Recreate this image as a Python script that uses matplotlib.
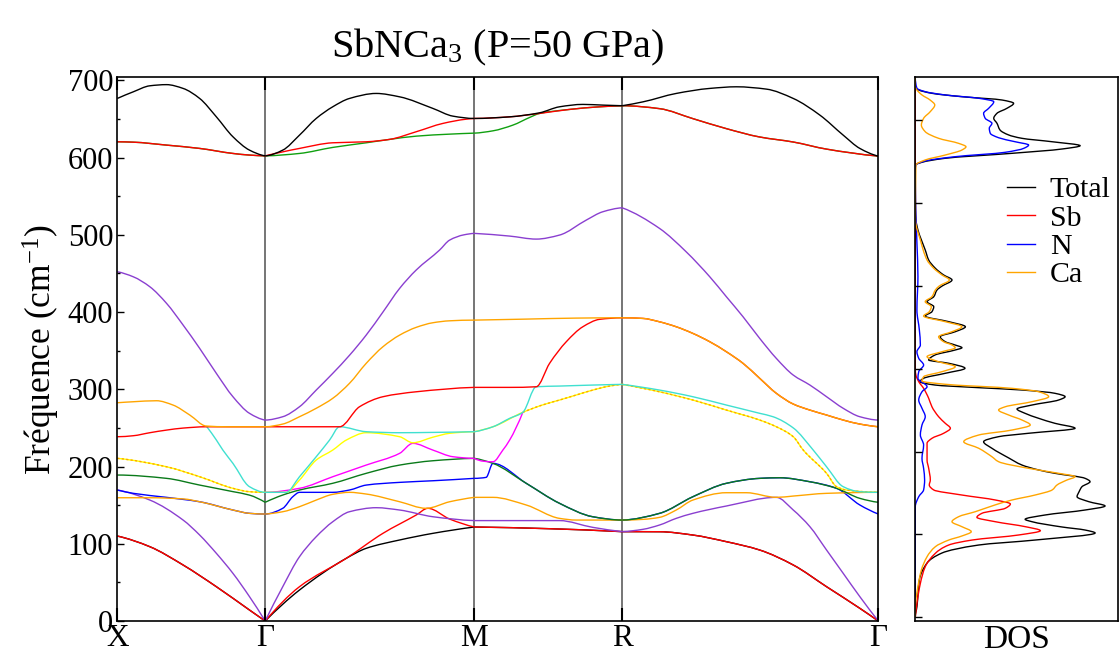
import numpy as np
import matplotlib
matplotlib.use("Agg")
import matplotlib.pyplot as plt
from matplotlib.path import Path
from matplotlib.patches import PathPatch

plt.rcParams['font.family'] = ['Liberation Serif', 'DejaVu Serif']
plt.rcParams['mathtext.fontset'] = 'custom'
plt.rcParams['mathtext.rm'] = 'Liberation Serif'
plt.rcParams['mathtext.it'] = 'Liberation Serif:italic'

# ---- high-symmetry path -------------------------------------------------
kpath_labels = ['X', 'Γ', 'M', 'R', 'Γ']
kpath_dist = [0.0, 0.5, 1.2071, 1.7071, 2.5731]

# ---- phonon branches: (path parameter s in [0, 4], frequency in cm-1) ----
black_low = [(0, 110), (0.220, 96.2), (0.445, 72.5), (0.670, 44.4), (0.894, 14.2), (1, 0),
             (1.164, 40.1), (1.388, 81.2), (1.483, 94.1), (1.643, 104.9), (1.802, 113.5), (2, 121.7),
             (2.509, 119.5), (3, 115.7),
             (3.146, 115.6), (3.276, 111.3), (3.407, 102.7), (3.537, 91.9), (3.668, 72.5),
             (3.798, 44.4), (3.928, 16.4), (4, 0)]
red_low = [(0, 110), (0.220, 96.2), (0.445, 72.5), (0.670, 44.4), (0.894, 14.2), (1, 0),
           (1.164, 44.4), (1.388, 81.2), (1.563, 113.5), (1.722, 137.2), (1.778, 145.9),
           (1.882, 132), (2, 121.7),
           (2.509, 119.5), (3, 115.7),
           (3.146, 115.6), (3.276, 111.3), (3.407, 102.7), (3.537, 91.9), (3.668, 72.5),
           (3.798, 44.4), (3.928, 16.4), (4, 0)]
purple_low = [(0, 169.6), (0.220, 156.6), (0.445, 130.7), (0.557, 111.3), (0.670, 87.6),
              (0.782, 61.7), (0.894, 31.5), (1, 0),
              (1.084, 44.4), (1.164, 83.2), (1.244, 109.1), (1.323, 128.5), (1.403, 141.5),
              (1.531, 146.7), (1.643, 143.7), (1.802, 135), (2, 130),
              (2.3, 130), (2.576, 130), (2.8, 121.3), (3, 115.7),
              (3.081, 118.7), (3.146, 124.3), (3.211, 132.9), (3.276, 139.4), (3.407, 148.9),
              (3.602, 160.1), (3.668, 143.7), (3.733, 122.1), (3.798, 91.9), (3.863, 61.7),
              (3.928, 31.5), (4, 0)]
blue_mid = [(0, 169.6), (0.108, 165.3), (0.333, 160.1), (0.557, 154.4), (0.782, 143.7),
            (0.894, 139.4), (1, 138.5),
            (1.084, 145.9), (1.132, 160.9), (1.164, 166.6), (1.323, 166.6), (1.403, 169.6),
            (1.483, 176), (1.643, 179.5), (1.802, 181.6), (2, 184.7),
            (2.08, 186), (2.126, 204.1), (2.351, 178.3), (2.576, 152.4), (2.801, 135), (3, 130.7),
            (3.146, 139.4), (3.276, 160.9), (3.407, 178.3), (3.537, 184.7), (3.615, 185.5),
            (3.733, 180.3), (3.837, 171.8), (3.928, 150.2), (4, 138.5)]
orange_low = [(0, 159.6), (0.22, 159.6), (0.45, 158), (0.557, 154.4), (0.782, 143.7),
              (0.894, 139.4), (1, 138.5),
              (1.084, 141.5), (1.164, 148), (1.244, 156.6), (1.323, 164), (1.403, 166.6),
              (1.483, 164.4), (1.643, 154.4), (1.770, 145.9), (1.882, 154.4), (2, 160.1),
              (2.126, 160.1), (2.351, 150.2), (2.576, 132.9), (2.689, 130.7), (3, 130.7),
              (3.081, 131.6), (3.146, 134.2), (3.211, 143.7), (3.276, 156.6), (3.407, 166.1),
              (3.485, 166.1), (3.602, 160.1), (3.668, 161.8), (3.798, 165.3), (4, 166.6)]
green_mid = [(0, 189), (0.333, 184.7), (0.557, 176), (0.782, 167.5), (0.894, 163), (1, 153.7),
             (1.084, 163.1), (1.164, 169.6), (1.323, 178.3), (1.483, 191.2), (1.643, 201.9),
             (1.802, 207.5), (2, 210.6),
             (2.126, 204.1), (2.351, 178.3), (2.576, 152.4), (2.801, 135), (3, 130.7),
             (3.146, 139.4), (3.276, 160.9), (3.407, 178.3), (3.537, 184.7), (3.615, 185.5),
             (3.733, 180.3), (3.837, 171.8), (3.928, 158.8), (4, 153.7)]
magenta_mid = [(1, 166.6), (1.164, 171.8), (1.323, 186.8), (1.483, 201.9), (1.643, 217.1),
               (1.706, 230), (1.802, 221.3), (1.898, 212.7), (2, 210.6),
               (2.126, 206.2), (2.193, 221.3), (2.239, 234.3), (2.328, 270.2)]
yellow_mid = [(0, 210.6), (0.333, 199.7), (0.557, 186.8), (0.782, 171.8), (0.894, 167.4), (1, 166.6),
              (1.1, 166.6), (1.164, 182.5), (1.244, 208.4), (1.323, 221.3), (1.388, 234.3),
              (1.483, 243.8), (1.643, 238.6), (1.706, 230.8), (1.802, 238), (1.882, 243), (2, 245.1),
              (2.126, 251.5), (2.328, 270.2), (2.459, 279.6), (2.576, 286.1), (2.689, 292.6),
              (2.801, 299), (2.914, 304.2), (3, 306.4),
              (3.146, 296.8), (3.276, 286.1), (3.407, 273.1), (3.537, 260.2), (3.602, 251.5),
              (3.668, 238.6), (3.707, 221.3), (3.798, 191.2), (3.837, 173.9), (3.876, 169.6),
              (4, 166.6)]
# degenerate partner that shows through the yellow branch
orange_pair_xg = [(0, 210.6), (0.333, 199.7), (0.557, 186.8), (0.782, 171.8), (0.894, 167.4),
                  (1, 166.6)]
orange_pair_mrg = [(2.328, 270.2), (2.459, 279.6), (2.576, 286.1), (2.689, 292.6),
                   (2.801, 299), (2.914, 304.2), (3, 306.4),
                   (3.146, 296.8), (3.276, 286.1), (3.407, 273.1), (3.537, 260.2), (3.602, 251.5),
                   (3.668, 238.6), (3.707, 221.3), (3.798, 191.2), (3.837, 173.9), (3.876, 169.6),
                   (4, 166.6)]
cyan_mid = [(0.602, 252.4), (0.670, 234.3), (0.714, 221.3), (0.782, 204.1), (0.894, 173.9), (1, 166.6),
            (1.1, 166.6), (1.164, 186.8), (1.244, 212.7), (1.308, 234.3), (1.356, 251.5),
            (1.483, 245.1), (1.643, 243.8), (1.802, 244.2), (2, 245.1),
            (2.126, 251.5), (2.239, 262.4), (2.328, 270.2), (2.419, 303.3), (2.576, 304.2),
            (2.801, 305.5), (3, 306.4),
            (3.146, 299), (3.276, 290.4), (3.407, 279.6), (3.537, 268.9), (3.589, 264.5),
            (3.668, 250), (3.746, 221.3), (3.798, 199.7), (3.863, 173.9), (3.928, 167.4), (4, 166.6)]
red_mid = [(0, 238.6), (0.108, 239.9), (0.220, 243.8), (0.333, 247.2), (0.445, 249.8),
           (0.602, 251.5), (1, 251.5),
           (1.164, 251.5), (1.356, 251.5), (1.451, 277.4), (1.563, 290.4),
           (1.722, 296.8), (2, 302.5),
           (2.239, 302.5), (2.419, 303.3), (2.509, 333.6), (2.622, 361.6), (2.734, 381),
           (2.847, 390.6), (3, 392.6),
           (3.081, 391.8), (3.146, 387.4), (3.211, 381), (3.276, 372.4), (3.342, 361.6),
           (3.407, 348.6), (3.472, 333.6), (3.537, 314.2), (3.602, 294.8), (3.668, 280.9),
           (3.733, 273.1), (3.798, 266.7), (3.863, 260.2), (3.928, 255), (4, 251.5)]
orange_high = [(0, 282.6), (0.108, 283.9), (0.265, 285.2), (0.377, 279.6), (0.490, 266.7),
               (0.602, 252.4), (0.75, 251.5), (1, 251.5),
               (1.084, 255), (1.164, 264.5), (1.244, 275.4), (1.323, 288.3), (1.403, 307.7),
               (1.483, 333.6), (1.563, 355.1), (1.643, 370.2), (1.722, 380.2), (1.802, 386.2),
               (1.882, 388.7), (2, 389.6),
               (2.351, 390.9), (2.689, 392.2), (3, 392.6),
               (3.081, 391.8), (3.146, 387.4), (3.211, 381), (3.276, 372.4), (3.342, 361.6),
               (3.407, 348.6), (3.472, 333.6), (3.537, 314.2), (3.602, 294.8), (3.668, 280.9),
               (3.733, 273.1), (3.798, 266.7), (3.863, 260.2), (3.928, 255), (4, 251.5)]
purple_high = [(0, 452.2), (0.108, 445.7), (0.220, 432.8), (0.333, 411.3), (0.445, 383.2),
               (0.557, 353), (0.670, 320.6), (0.782, 290.4), (0.894, 268.9), (1, 260.2),
               (1.084, 264.5), (1.164, 277.4), (1.244, 299), (1.323, 320.6), (1.403, 344),
               (1.483, 370.2), (1.563, 400), (1.643, 430.7), (1.722, 454.4), (1.834, 480.3),
               (1.882, 493.2), (1.95, 500), (2, 501.9),
               (2.239, 498.4), (2.419, 494.5), (2.576, 499.7), (2.757, 519.1), (2.869, 529.9), (3, 535),
               (3.146, 508.3), (3.250, 478), (3.342, 445.7), (3.407, 419.8), (3.472, 393.9),
               (3.537, 365.9), (3.602, 340), (3.668, 318.4), (3.733, 305.5), (3.798, 290.4),
               (3.863, 275.4), (3.928, 264.5), (4, 260.2)]
green_top = [(0, 620.5), (0.108, 620), (0.333, 616.2), (0.557, 611.9), (0.782, 605.4),
             (0.894, 603.3), (1, 602.3),
             (1.164, 605.4), (1.323, 613.2), (1.483, 619.2), (1.595, 623.6), (1.722, 627.8),
             (1.882, 630.4), (2, 631.7),
             (2.126, 634.7), (2.261, 642.1), (2.374, 652), (2.441, 657.2), (2.644, 662.4),
             (2.847, 665.8), (3, 667.2),
             (3.146, 663.4), (3.276, 650.5), (3.407, 637.5), (3.537, 626.7), (3.668, 620.2),
             (3.798, 611), (4, 602)]
red_top = [(0, 620.5), (0.108, 620), (0.333, 616.2), (0.557, 611.9), (0.782, 605.4),
           (0.894, 603.3), (1, 602.3),
           (1.164, 611.9), (1.323, 619.2), (1.483, 620.5), (1.595, 623.6), (1.722, 633.5),
           (1.850, 644.3), (1.962, 649.8), (2, 650.7),
           (2.239, 652.8), (2.441, 657.2), (2.644, 662.4), (2.847, 665.8), (3, 667.2),
           (3.146, 663.4), (3.276, 650.5), (3.407, 637.5), (3.537, 626.7), (3.668, 620.2),
           (3.798, 611), (4, 602)]
black_top = [(0, 676.6), (0.108, 685.2), (0.220, 693), (0.333, 694.5), (0.445, 689.6),
             (0.557, 676.6), (0.670, 652.8), (0.782, 627), (0.894, 609.7), (1, 602.3),
             (1.084, 609.7), (1.164, 629.1), (1.244, 650.7), (1.323, 665.8), (1.403, 676.6),
             (1.531, 683.1), (1.643, 678.7), (1.802, 663.7), (1.898, 653.7), (2, 650.7),
             (2.239, 652.8), (2.441, 658), (2.576, 665.8), (2.734, 668.9), (2.869, 668), (3, 667.2),
             (3.081, 672.2), (3.211, 683.1), (3.342, 689.6), (3.446, 691.7), (3.563, 688.7),
             (3.668, 676.6), (3.772, 655), (3.863, 629.1), (3.928, 611.9), (4, 602)]

# drawing order: bottom to top (band, colour, dashed)
branches = [
    (black_low, 'black', False), (red_low, '#ff0000', False), (purple_low, '#8a3fd0', False),
    (blue_mid, '#0000ff', False), (orange_low, '#ffa500', False), (green_mid, '#0a7a1a', False),
    (magenta_mid, '#ff00ff', False), (yellow_mid, '#ffff00', False),
    (orange_pair_xg, '#ffa500', True), (orange_pair_mrg, '#ffa500', True),
    (cyan_mid, '#40e0d0', False),
    (red_mid, '#ff0000', False), (orange_high, '#ffa500', False), (purple_high, '#8a3fd0', False),
    (green_top, '#10a010', False), (red_top, '#ff0000', False), (black_top, 'black', False),
]

# ---- projected density of states (frequency, DOS) -------------------------
dos_total_f = [0, 0.7, 12.8, 45.0, 65.5, 77.6, 87.2, 93.2, 101.7, 105.3, 108.9, 115.3, 118.2,
               123.4, 129.4, 134.3, 139.4, 145.5, 151.5, 157.5, 163.6, 167.7, 173.7, 177.7,
               183.7, 192.2, 203.9, 211.8, 217.9, 222.0, 228.0, 234.0, 240.0, 246.1, 251.3,
               256.1, 262.1, 266.1, 270.2, 274.2, 277.0, 280.2, 284.2, 288.3, 294.3, 300.4,
               306.4, 310.4, 316.4, 322.4, 325.2, 328.5, 332.4, 338.5, 344.5, 350.5, 356.6,
               363.4, 368.6, 374.7, 380.7, 386.7, 394.8, 399.6, 406.9, 412.9, 421.0, 431.0,
               443.1, 455.2, 467.2, 479.3, 491.3, 545.6, 548.9, 553.7, 559.7, 564.9, 568.9,
               573.7, 577.8, 581.8, 587.8, 595.9, 601.9, 608.0, 614.0, 620.0, 624.0, 628.0,
               632.1, 636.1, 638.8, 651]
dos_total_v = [0, 0, 0.8, 2.0, 5.8, 13.2, 31.3, 59.1, 88.7, 83.7, 72.5, 57.6, 54.2,
               64.0, 83.7, 93.6, 85.7, 79.8, 80.8, 82.2, 86.2, 83.7, 68.9, 60.9,
               52.6, 46.1, 37.8, 33.7, 41.1, 55.9, 78.8, 68.9, 60.9, 54.1, 50.2,
               57.6, 70.7, 73.9, 68.9, 52.6, 31.3, 9.7, 2.3, 4.1, 14.7, 24.5,
               16.5, 6.6, 9.7, 19.6, 23.0, 19.6, 14.8, 12.3, 19.7, 24.7, 16.5,
               4.9, 8.2, 9.1, 5.8, 9.1, 10.7, 13.2, 18.1, 14.0, 9.9, 6.6,
               4.9, 3.0, 1.3, 0.3, 0, 0, 3.3, 14.7, 47.7, 72.4, 81.3,
               67.4, 52.6, 46.1, 41.8, 40.3, 38.7, 40.3, 45.2, 48.5, 42.8, 23.0,
               8.2, 1.7, 0, 0]

dos_sb_f = [0, 16.9, 41.0, 61.0, 77.2, 87.2, 93.2, 99.3, 104.5, 109.3, 115.3, 120.6, 125.5,
            131.5, 136.7, 141.5, 147.5, 153.6, 159.6, 165.6, 179.7, 189.7, 199.8, 209.9,
            215.9, 222.0, 228.0, 234.0, 242.0, 254.0, 264.2, 276.2, 284.2, 292.3, 298.3, 651]
dos_sb_v = [0, 0.8, 2.5, 4.9, 9.9, 16.5, 28.0, 51.0, 61.7, 54.3, 39.5, 30.4, 32.9,
            44.4, 46.9, 39.5, 23.0, 9.1, 6.9, 7.4, 6.6, 5.8, 5.8, 5.8,
            8.2, 14.0, 17.3, 14.8, 11.5, 8.2, 6.6, 4.1, 1.7, 0.3, 0, 0]

dos_n_f = [0, 133.4, 145.5, 153.6, 165.6, 179.7, 191.8, 207.8, 219.9, 232.0, 242.0, 252.1,
           262.1, 272.1, 278.2, 288.3, 296.3, 304.3, 312.4, 320.4, 328.5, 346.6, 370.7,
           410.9, 451.5, 491.3, 515.6, 539.6, 545.6, 550.4, 555.6, 560.9, 565.7, 569.7,
           573.7, 578.5, 583.8, 589.9, 595.9, 601.9, 608.0, 614.0, 622.0, 626.1, 630.1,
           634.1, 638.2, 651]
dos_n_v = [0, 0, 1.7, 4.1, 4.6, 4.1, 3.3, 4.1, 2.5, 3.3, 4.9, 3.3,
           1.7, 3.3, 5.8, 1.3, 1.7, 4.1, 1.7, 0.8, 2.5, 2.0, 0.8,
           1.3, 0.8, 0.3, 0.1, 0, 0.3, 4.8, 19.6, 44.3, 53.5, 55.9,
           49.2, 41.1, 37.0, 36.5, 37.8, 34.5, 33.7, 36.2, 38.7, 31.3, 14.7,
           4.8, 0.8, 0]

dos_ca_f = [0, 12.8, 36.9, 57.1, 73.1, 85.2, 93.2, 98.1, 103.3, 109.3, 115.3, 121.4, 127.4,
            135.5, 141.5, 147.5, 153.6, 159.6, 165.6, 169.6, 173.7, 179.7, 187.7, 193.7,
            203.9, 211.8, 219.9, 225.9, 232.0, 238.0, 244.0, 250.1, 254.0, 260.1, 266.1,
            272.1, 276.2, 281.1, 285.0, 290.2, 296.3, 302.3, 308.3, 314.4, 320.4, 325.2,
            328.5, 332.4, 338.5, 344.5, 350.5, 356.6, 363.4, 368.6, 374.7, 380.7, 386.7,
            394.8, 399.6, 406.9, 412.9, 421.0, 431.0, 455.2, 479.3, 545.6, 551.6, 557.6,
            563.7, 567.6, 571.7, 577.8, 585.8, 593.8, 601.9, 610.0, 618.0, 624.0, 630.1,
            636.1, 639.7, 651]
dos_ca_v = [0, 0, 1.3, 3.0, 5.8, 9.9, 16.5, 23.0, 27.6, 23.0, 18.1, 21.4, 29.6,
            39.3, 47.7, 59.1, 67.5, 69.9, 74.8, 78.8, 70.7, 55.9, 41.1, 37.8,
            31.3, 23.9, 31.3, 47.7, 56.7, 52.6, 46.1, 41.1, 44.4, 57.6, 65.8,
            60.9, 47.7, 14.7, 3.3, 4.1, 13.2, 19.7, 11.5, 5.8, 13.2, 19.7,
            18.1, 14.0, 11.5, 18.1, 23.0, 14.8, 4.1, 6.9, 7.9, 4.9, 8.2,
            9.9, 11.8, 16.8, 13.2, 9.1, 5.8, 2.5, 0.1, 0.3, 4.8, 14.7,
            23.0, 25.0, 21.4, 11.5, 4.9, 3.0, 4.1, 7.4, 9.6, 7.3, 3.3,
            0.8, 0, 0]

dos_series = [('Total', dos_total_f, dos_total_v, 'black'),
              ('Sb', dos_sb_f, dos_sb_v, '#ff0000'),
              ('N', dos_n_f, dos_n_v, '#0000ff'),
              ('Ca', dos_ca_f, dos_ca_v, '#ffa500')]


def path_to_k(s):
    return np.interp(s, [0, 1, 2, 3, 4], kpath_dist)


def hermite_slopes(x, y):
    """Shape-preserving (Fritsch-Carlson) tangents at the given samples."""
    x = np.asarray(x, float)
    y = np.asarray(y, float)
    h = np.diff(x)
    d = np.diff(y) / h
    n = len(x)
    m = np.zeros(n)
    if n == 2:
        m[:] = d[0]
        return m
    for i in range(1, n - 1):
        if d[i - 1] * d[i] > 0:
            w1 = 2 * h[i] + h[i - 1]
            w2 = h[i] + 2 * h[i - 1]
            m[i] = (w1 + w2) / (w1 / d[i - 1] + w2 / d[i])

    def edge(h0, h1, d0, d1):
        s = ((2 * h0 + h1) * d0 - h0 * d1) / (h0 + h1)
        if np.sign(s) != np.sign(d0):
            return 0.0
        if np.sign(d0) != np.sign(d1) and abs(s) > abs(3 * d0):
            return 3 * d0
        return s

    m[0] = edge(h[0], h[1], d[0], d[1])
    m[-1] = edge(h[-1], h[-2], d[-1], d[-2])
    return m


def smooth_path(x, y, swap=False):
    """Cubic Bezier path running through every sample (x increasing)."""
    x = np.asarray(x, float)
    y = np.asarray(y, float)
    m = hermite_slopes(x, y)
    verts = [(x[0], y[0])]
    codes = [Path.MOVETO]
    for i in range(len(x) - 1):
        h = x[i + 1] - x[i]
        verts += [(x[i] + h / 3, y[i] + m[i] * h / 3),
                  (x[i + 1] - h / 3, y[i + 1] - m[i + 1] * h / 3),
                  (x[i + 1], y[i + 1])]
        codes += [Path.CURVE4] * 3
    verts = np.array(verts)
    if swap:
        verts = verts[:, ::-1]
    return Path(verts, codes)


def draw_branch(ax, pts, color, dashed):
    s = np.array([p[0] for p in pts], float)
    f = np.array([p[1] for p in pts], float)
    # split at high-symmetry points so each path segment is drawn on its own
    cuts = [i for i in range(1, len(s) - 1) if abs(s[i] - round(s[i])) < 1e-9]
    bounds = [0] + cuts + [len(s) - 1]
    for a, b in zip(bounds[:-1], bounds[1:]):
        seg_s, seg_f = s[a:b + 1], f[a:b + 1]
        if len(seg_s) < 2:
            continue
        path = smooth_path(path_to_k(seg_s), seg_f)
        ax.add_patch(PathPatch(path, fill=False, edgecolor=color, lw=1.0,
                               linestyle=(0, (1.6, 1.6)) if dashed else '-',
                               capstyle='butt', joinstyle='round'))


fig = plt.figure(figsize=(11.19, 6.56), dpi=100)
ax = fig.add_axes([117.3 / 1119, 35 / 656, 761 / 1119, 543.7 / 656])
ax2 = fig.add_axes([915.3 / 1119, 35.3 / 656, 202.7 / 1119, 543.4 / 656])

# band structure
for pts, col, dashed in branches:
    draw_branch(ax, pts, col, dashed)

for kx in kpath_dist[1:-1]:
    ax.axvline(kx, color='#505050', lw=1.1, zorder=0)

ax.set_xlim(kpath_dist[0], kpath_dist[-1])
ax.set_ylim(0, 704)
ax.set_xticks(kpath_dist)
ax.set_xticklabels(kpath_labels, fontsize=22.5)
ax.tick_params(axis='x', direction='in', length=9.5, width=1.5, top=True, bottom=True, pad=2)
ax.set_yticks(np.arange(0, 701, 100))
ax.set_yticks(np.arange(50, 701, 100), minor=True)
ax.tick_params(axis='y', which='major', direction='in', length=5, width=1.0, labelsize=22, pad=3)
ax.tick_params(axis='y', which='minor', direction='in', length=2.5, width=1.0)
ax.set_ylabel('Fréquence (cm$^{-1}$)', fontsize=25.5, labelpad=4)
ax.set_title('SbNCa$_3$ (P=50 GPa)', fontsize=29, pad=14)
for sp in ax.spines.values():
    sp.set_linewidth(1.2)

# density of states
for name, f, v, col in dos_series:
    ax2.add_patch(PathPatch(smooth_path(f, v, swap=True), fill=False, edgecolor=col, lw=1.0))
ax2.set_xlim(0, 100)
ax2.set_ylim(-4.1, 651.4)
ax2.set_xticks([])
ax2.set_yticks(np.arange(0, 601, 100))
ax2.tick_params(axis='y', direction='in', length=5, width=1.0, labelleft=False)
ax2.set_xlabel('DOS', fontsize=24, labelpad=3)
for sp in ax2.spines.values():
    sp.set_linewidth(1.2)

# legend drawn by hand so the rows sit close together
legend_y = [0.779, 0.727, 0.675, 0.623]
for (name, _, _, col), yb in zip(dos_series, legend_y):
    ax2.plot([0.452, 0.591], [yb + 0.019, yb + 0.019], color=col, lw=1.0,
             transform=ax2.transAxes)
    ax2.text(0.663, yb, name, transform=ax2.transAxes, fontsize=21.5,
             ha='left', va='baseline')

fig.savefig('out.png', dpi=100)
